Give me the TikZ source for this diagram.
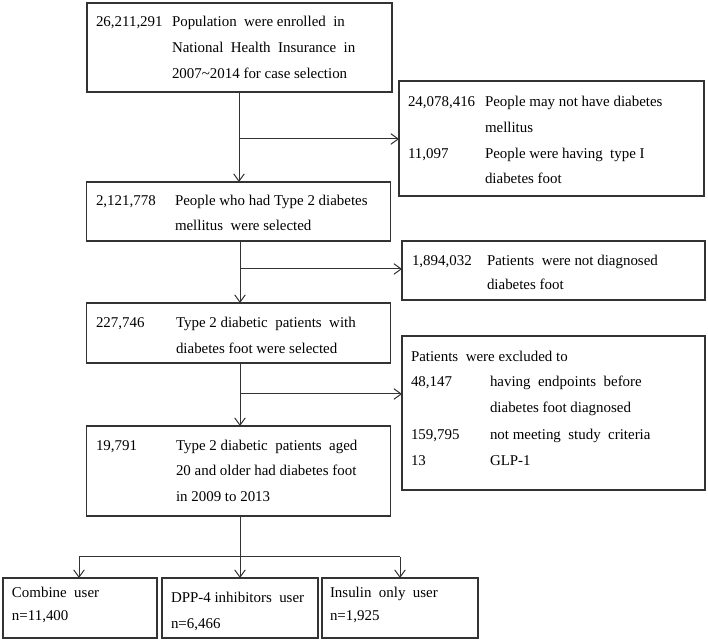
\documentclass[tikz,border=0pt]{standalone}
\usepackage{fontspec}
\setmainfont{Liberation Serif}
\usetikzlibrary{arrows.meta}
\definecolor{ink}{gray}{0.2}
\tikzset{
  box/.style={draw=ink, line width=0.9pt, rectangle, inner sep=0pt, outer sep=0pt},
  txt/.style={anchor=base west, inner sep=0pt, outer sep=0pt, text=black},
  arr/.style={draw=ink, line width=0.75pt, -{Straight Barb[length=5.5pt,width=8pt]}},
  ln/.style={draw=ink, line width=0.75pt},
}
\begin{document}
\begin{tikzpicture}[x=0.75pt, y=-0.75pt, font=\fontsize{11.2pt}{13pt}\selectfont]
\fill[white] (0,0) rectangle (708,641);
\useasboundingbox (0,0) rectangle (708,641);

% boxes
\node[box, minimum width=228.75pt, minimum height=66.75pt] (b1) at (239.5,47.5) {};
\node[box, minimum width=228.75pt, minimum height=86.25pt] (r1) at (551.5,138.5) {};
\node[box, minimum width=228pt, minimum height=44.25pt] (b2) at (238.5,211.5) {};
\node[box, minimum width=227.25pt, minimum height=44.25pt] (r2) at (553.5,270.5) {};
\node[box, minimum width=228pt, minimum height=45pt] (b3) at (238.5,333) {};
\node[box, minimum width=227.25pt, minimum height=115.5pt] (r3) at (553.5,413) {};
\node[box, minimum width=228pt, minimum height=67.5pt] (b4) at (238.5,471) {};
\node[box, minimum width=115.5pt, minimum height=45pt] (ua) at (80,608) {};
\node[box, minimum width=117pt, minimum height=45pt] (ub) at (240,608) {};
\node[box, minimum width=117pt, minimum height=45pt] (uc) at (400,608) {};

% texts box 1
\node[txt] (t1n) at (96,27) {26,211,291};
\node[txt] (t1a) at (172,27) {Population\ \ were enrolled\ \ in};
\node[txt] (t1b) at (172,53) {National\ \ Health\ \ Insurance\ \ in};
\node[txt] (t1c) at (172,79) {2007\textasciitilde 2014 for case selection};

% right box 1
\node[txt] (r1n) at (408,107) {24,078,416};
\node[txt] (r1a) at (485,107) {People may not have diabetes};
\node[txt] (r1b) at (485,133) {mellitus};
\node[txt] (r1m) at (408,159) {11,097};
\node[txt] (r1c) at (485,159) {People were having\ \ type I};
\node[txt] (r1d) at (485,184) {diabetes foot};

% box 2
\node[txt] (t2n) at (96,206) {2,121,778};
\node[txt] (t2a) at (175,206) {People\ who\ had\ Type\ 2\ diabetes};
\node[txt] (t2b) at (175,231) {mellitus\ \ were selected};

% right box 2
\node[txt] (r2n) at (412,266) {1,894,032};
\node[txt] (r2a) at (487,266) {Patients\ \ were not diagnosed};
\node[txt] (r2b) at (487,290) {diabetes foot};

% box 3
\node[txt] (t3n) at (96,328) {227,746};
\node[txt] (t3a) at (176,328) {Type 2 diabetic\ \ patients\ \ with};
\node[txt] (t3b) at (176,354) {diabetes\ foot\ were selected};

% right box 3
\node[txt] (r3h) at (411,362) {Patients\ \ were excluded to};
\node[txt] (r3n) at (411,387) {48,147};
\node[txt] (r3a) at (490,387) {having\ \ endpoints\ \ before};
\node[txt] (r3b) at (490,413) {diabetes foot diagnosed};
\node[txt] (r3m) at (411,440) {159,795};
\node[txt] (r3c) at (490,440) {not meeting\ \ study\ \ criteria};
\node[txt] (r3k) at (411,466) {13};
\node[txt] (r3d) at (490,466) {GLP-1};

% box 4
\node[txt] (t4n) at (96,451) {19,791};
\node[txt] (t4a) at (176,451) {Type 2 diabetic\ \ patients\ \ aged};
\node[txt] (t4b) at (176,476) {20 and older had diabetes foot};
\node[txt] (t4c) at (176,502) {in 2009 to 2013};

% bottom boxes
\node[txt] (uat) at (12,598) {Combine\ \ user};
\node[txt] (uan) at (12,621) {n=11,400};
\node[txt] (ubt) at (171,603) {DPP-4 inhibitors\ \ user};
\node[txt] (ubn) at (171,629) {n=6,466};
\node[txt] (uct) at (330,598) {Insulin\ \ only\ \ user};
\node[txt] (ucn) at (330,621) {n=1,925};

% connectors
\coordinate (j1) at (239,139);
\coordinate (j2) at (240,269);
\coordinate (j3) at (240,394);
\coordinate (j4) at (240,557);
\coordinate (jl) at (79,557);
\coordinate (jr) at (400,557);

\draw[arr] (b1.south -| j1) -- (b2.north -| j1);
\draw[arr] (j1) -- (j1 -| r1.west);
\draw[arr] (b2.south -| j2) -- (b3.north -| j2);
\draw[arr] (j2) -- (j2 -| r2.west);
\draw[arr] (b3.south -| j3) -- (b4.north -| j3);
\draw[arr] (j3) -- (j3 -| r3.west);
\draw[arr] (b4.south -| j4) -- (ub.north -| j4);
\draw[ln] (jl) -- (jr);
\draw[arr] (jl) -- (ua.north -| jl);
\draw[arr] (jr) -- (uc.north -| jr);
\end{tikzpicture}
\end{document}
